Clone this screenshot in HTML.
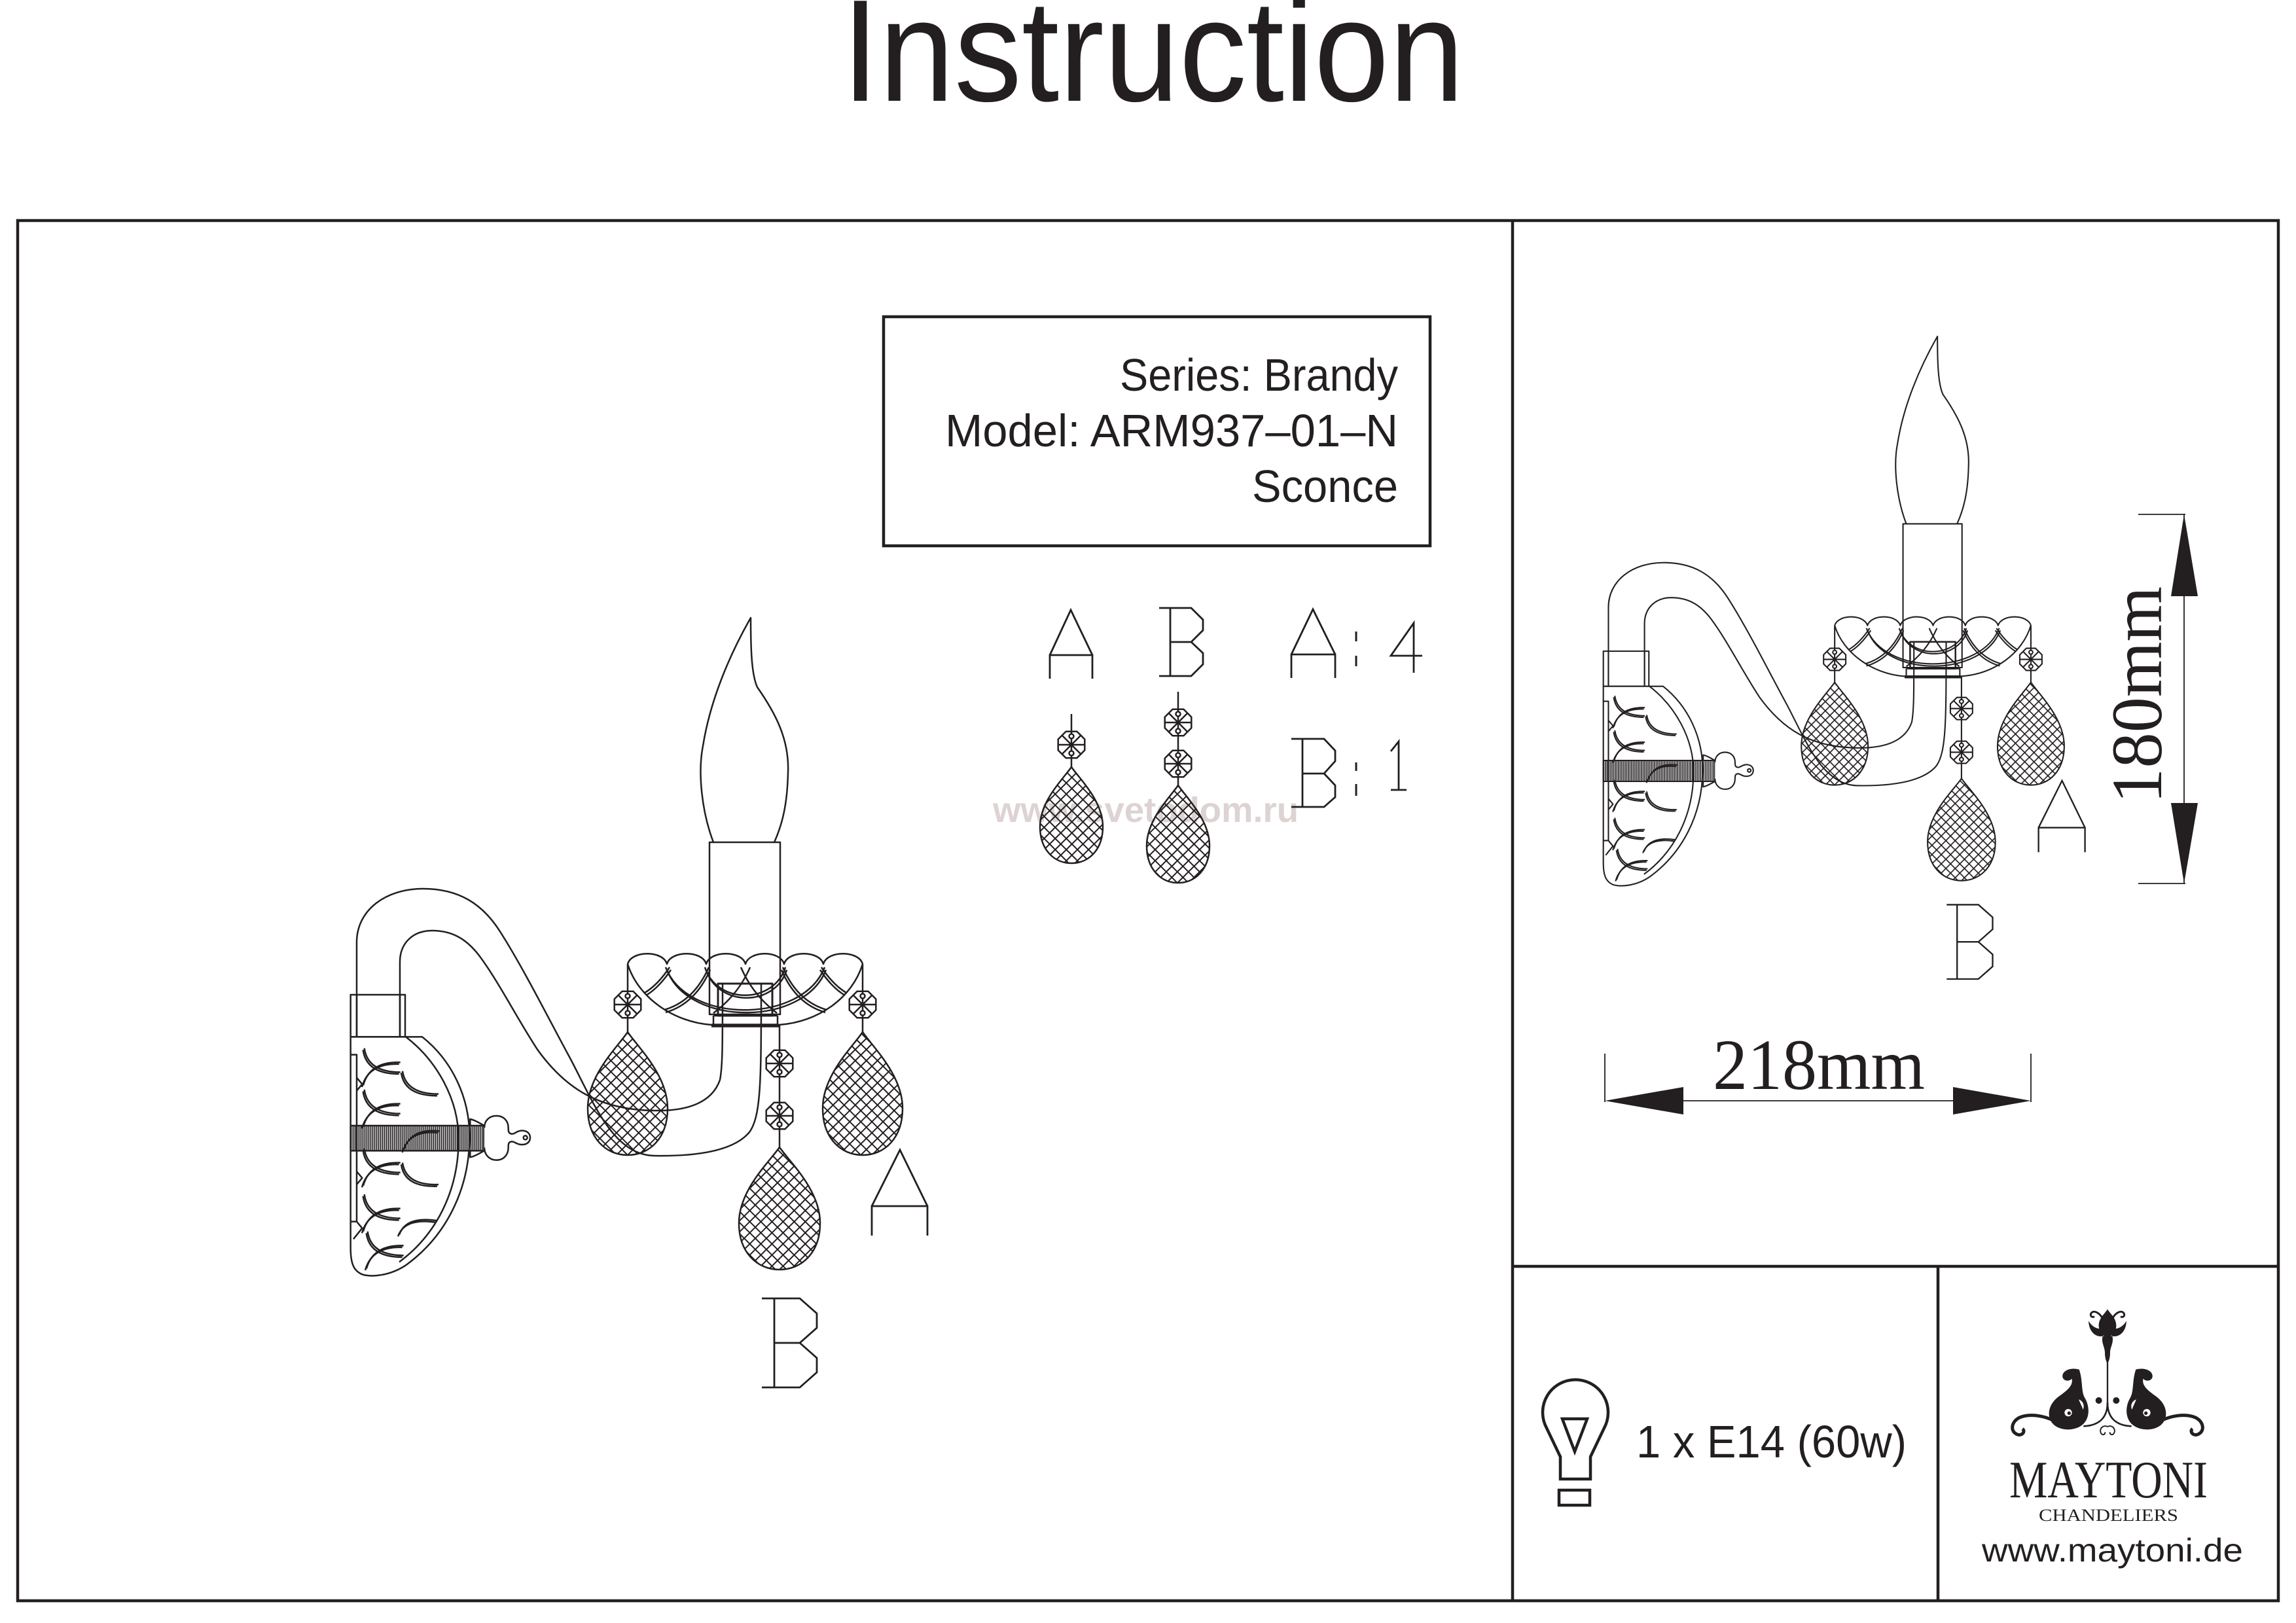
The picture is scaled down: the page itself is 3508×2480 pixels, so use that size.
<!DOCTYPE html>
<html>
<head>
<meta charset="utf-8">
<style>
html,body{margin:0;padding:0;background:#fff;}
svg{display:block;}
</style>
</head>
<body>
<svg width="3508" height="2480" viewBox="0 0 3508 2480" xmlns="http://www.w3.org/2000/svg">
<defs>
  <pattern id="xh" patternUnits="userSpaceOnUse" width="12" height="12" patternTransform="rotate(45)">
    <path d="M0,6 H12 M6,0 V12" stroke="#231f20" stroke-width="2" fill="none"/>
  </pattern>
  <pattern id="vh" patternUnits="userSpaceOnUse" width="9" height="10">
    <path d="M4.5,0 V10" stroke="#231f20" stroke-width="5.5" fill="none"/>
  </pattern>
  <g id="oct">
    <path d="M20.3,-8.4 L8.4,-20.3 L-8.4,-20.3 L-20.3,-8.4 L-20.3,8.4 L-8.4,20.3 L8.4,20.3 L20.3,8.4 Z" fill="#fff"/>
    <path d="M0,-20.3 V20.3 M-20.3,0 H20.3 M-14.4,-14.4 L14.4,14.4 M14.4,-14.4 L-14.4,14.4"/>
    <circle cx="0" cy="-13" r="3.5" fill="#fff"/>
    <circle cx="0" cy="13" r="3.5" fill="#fff"/>
  </g>
</defs>

<rect width="3508" height="2480" fill="#fff"/>

<!-- Title -->
<text x="1286" y="154" font-family="'Liberation Sans', Arial, sans-serif" font-size="222" textLength="951" lengthAdjust="spacingAndGlyphs" fill="#231f20">Instruction</text>

<!-- Frame -->
<g fill="none" stroke="#231f20" stroke-width="4.5">
  <rect x="27" y="337" width="3454" height="2109"/>
  <path d="M2311,337 V2446 M2311,1935 H3481 M2961,1935 V2446"/>
</g>

<!-- Info box -->
<rect x="1350" y="484" width="835" height="350" fill="none" stroke="#231f20" stroke-width="4.5"/>
<g font-family="'Liberation Sans', Arial, sans-serif" font-size="70" fill="#231f20">
  <text x="1711" y="597" textLength="425" lengthAdjust="spacingAndGlyphs">Series: Brandy</text>
  <text x="1444" y="682" textLength="692" lengthAdjust="spacingAndGlyphs">Model: ARM937–01–N</text>
  <text x="1913" y="767" textLength="223" lengthAdjust="spacingAndGlyphs">Sconce</text>
</g>

<!-- Watermark -->
<text x="1517" y="1256" font-family="'Liberation Sans', Arial, sans-serif" font-weight="bold" font-size="54" textLength="467" lengthAdjust="spacingAndGlyphs" fill="#ddd3d3">www.svetodom.ru</text>

<!-- Legend -->
<g fill="none" stroke="#231f20" stroke-width="2.8" stroke-linejoin="miter">
  <path d="M1604,1037 V1001 H1669 V1037 M1604,1001 L1636,932 L1669,1001"/>
  <path d="M1771,929 H1820 L1838,947 V963 L1820,981 H1788 M1820,981 L1838,998 V1015 L1820,1033 H1771 M1788,929 V1033"/>
  <path d="M1973,1036 V1000 H2040 V1036 M1973,1000 L2006,931 L2040,1000"/>
  <path d="M2072,965 V980 M2072,1002 V1018" stroke-width="3"/>
  <path d="M2160,1028 V952 L2125,1002 H2173"/>
  <path d="M1973,1129 H2023 L2040,1147 V1163 L2023,1182 H1990 M2023,1182 L2040,1200 V1218 L2023,1233 H1973 M1990,1129 V1233"/>
  <path d="M2072,1165 V1178 M2072,1198 V1216" stroke-width="3"/>
  <path d="M2125,1148 L2137,1133 V1207 M2125,1207 H2149"/>
</g>
<g fill="none" stroke="#231f20" stroke-width="2.5">
  <path d="M1637,1091 V1118 M1637,1158 V1172"/>
  <use href="#oct" x="1637" y="1138"/>
  <path d="M1637,1172 C1649,1189.6 1685,1223.5 1685,1263.1 C1685,1298.4 1663.4,1319 1637,1319 C1610.6,1319 1589,1298.4 1589,1263.1 C1589,1223.5 1625,1189.6 1637,1172 Z" fill="url(#xh)"/>
  <path d="M1800,1057 V1084 M1800,1124 V1147 M1800,1187 V1200"/>
  <use href="#oct" x="1800" y="1104"/>
  <use href="#oct" x="1800" y="1167"/>
  <path d="M1800,1200 C1812,1217.9 1848,1252.2 1848,1292.4 C1848,1328.1 1826.4,1349 1800,1349 C1773.6,1349 1752,1328.1 1752,1292.4 C1752,1252.2 1788,1217.9 1800,1200 Z" fill="url(#xh)"/>
</g>

<!-- Sconce drawing (left) -->
<g id="sc" fill="none" stroke="#231f20" stroke-width="2.5" stroke-linejoin="round">
  <!-- flame and candle -->
  <path d="M1090,1287 C1072,1240 1066,1180 1074,1140 C1085,1070 1115,1000 1147,944 C1147,990 1148,1030 1157,1050 C1185,1090 1206,1130 1204,1180 C1203,1230 1195,1260 1183,1287"/>
  <rect x="1084" y="1287" width="108" height="263"/>
  <!-- arm -->
  <path d="M545,1584 L545,1440 C545,1390 590,1358 646,1358 C700,1358 737,1380 765,1425 C800,1480 840,1560 870,1615 C905,1680 935,1765 1000,1766 C1060,1767 1120,1760 1145,1730 C1163,1705 1163,1650 1163,1503"/>
  <path d="M611,1584 L611,1470 C611,1440 632,1422 660,1422 C690,1422 712,1434 732,1460 C762,1500 792,1560 822,1605 C862,1660 912,1696 1000,1697 C1050,1698 1088,1685 1100,1650 C1104,1630 1104,1600 1104,1503"/>
  <!-- bobeche -->
  <path d="M959,1473 C965,1452 1013,1452 1019,1473 C1025,1452 1073,1452 1079,1473 C1085,1452 1133,1452 1139,1473 C1145,1452 1192,1452 1198,1473 C1204,1452 1252,1452 1258,1473 C1264,1452 1312,1452 1318,1473"/>
  <path d="M959,1473 C975,1525 1030,1562 1087,1566 L1190,1566 C1250,1562 1302,1525 1318,1473"/>
  <g>
    <path d="M985,1517 Q1005,1505 1023,1478 M1015,1543 Q1060,1530 1083,1478 M1293,1517 Q1273,1505 1255,1478 M1263,1543 Q1218,1530 1196,1478 M1017,1478 C1050,1565 1226,1565 1260,1478 M1077,1478 C1095,1535 1182,1535 1200,1478 M1132,1478 Q1150,1520 1187,1548 M1146,1478 Q1128,1520 1090,1548"/>
    <path transform="translate(2,4)" d="M985,1517 Q1005,1505 1023,1478 M1015,1543 Q1060,1530 1083,1478 M1017,1478 C1050,1565 1226,1565 1260,1478 M1077,1478 C1095,1535 1182,1535 1200,1478"/>
    <path transform="translate(-2,4)" d="M1293,1517 Q1273,1505 1255,1478 M1263,1543 Q1218,1530 1196,1478"/>
  </g>
  <rect x="1097" y="1503" width="83" height="49" stroke-width="3"/>
  <path d="M1090,1552 H1188 M1090,1552 V1566 M1188,1552 V1566"/>
  <path d="M1087,1567 H1190" stroke-width="5.5"/>
  <!-- pendants -->
  <path d="M959,1473 V1514 M959,1556 V1577 M1318,1473 V1514 M1318,1556 V1577 M1191,1566 V1604 M1191,1646 V1684 M1191,1726 V1753"/>
  <use href="#oct" x="959" y="1535"/>
  <use href="#oct" x="1318" y="1535"/>
  <use href="#oct" x="1191" y="1625"/>
  <use href="#oct" x="1191" y="1705"/>
  <path d="M959,1577 C974.3,1599.6 1020,1642.8 1020,1693.6 C1020,1738.7 992.6,1765 959,1765 C925.4,1765 898,1738.7 898,1693.6 C898,1642.8 943.7,1599.6 959,1577 Z" fill="url(#xh)"/>
  <path d="M1318,1577 C1333.3,1599.6 1379,1642.8 1379,1693.6 C1379,1738.7 1351.6,1765 1318,1765 C1284.4,1765 1257,1738.7 1257,1693.6 C1257,1642.8 1302.7,1599.6 1318,1577 Z" fill="url(#xh)"/>
  <path d="M1191,1753 C1206.5,1775.4 1253,1818.5 1253,1868.9 C1253,1913.8 1225.1,1940 1191,1940 C1156.9,1940 1129,1913.8 1129,1868.9 C1129,1818.5 1175.5,1775.4 1191,1753 Z" fill="url(#xh)"/>
  <!-- wall plate (local 3x coords) -->
  <g transform="translate(520,1490) scale(0.33333)" stroke-width="7.5">
    <rect x="47" y="90" width="250" height="193"/>
    <path d="M47,283 L375,283 C510,390 595,560 592,750 C589,990 480,1200 300,1330 C225,1380 140,1385 100,1372 C60,1355 47,1320 47,1250 Z" fill="#fff"/>
    <path d="M300,283 C440,390 545,570 542,760 C540,990 440,1190 270,1315"/>
    <path d="M47,365 H75 V1130 H47 M75,470 L100,500 L75,530 M75,900 L100,930 L75,960 M75,1130 L100,1160 L60,1210"/>
    <g id="plarcs">
      <path d="M110,335 Q125,445 275,445 M275,400 Q135,395 105,505"/>
      <path d="M110,525 Q125,635 275,635 M275,590 Q135,585 105,695"/>
      <path d="M110,795 Q125,905 275,905 M275,860 Q135,855 105,965"/>
      <path d="M110,1005 Q125,1115 275,1115 M275,1070 Q135,1065 105,1175"/>
      <path d="M125,1175 Q140,1285 290,1285 M290,1240 Q150,1235 120,1345"/>
      <path d="M285,440 Q300,545 450,545 M285,860 Q300,965 450,960 M290,805 Q320,700 455,715 M270,1190 Q300,1105 440,1125"/>
    </g>
    <use href="#plarcs" transform="translate(-6,8)"/>
    <rect x="47" y="690" width="613" height="115" fill="url(#vh)"/>
    <path d="M595,690 L595,660 C620,665 640,680 660,690 M595,805 L595,835 C620,830 640,815 660,805"/>
    <path d="M660,700 C660,665 685,645 715,645 C748,645 770,668 770,700 C770,715 770,725 785,728 C800,730 805,715 830,713 C858,712 870,728 870,745 C870,762 858,778 830,777 C805,776 800,762 785,763 C770,765 770,775 770,790 C770,825 748,848 715,848 C685,848 660,825 660,790" fill="#fff"/>
    <circle cx="848" cy="745" r="9"/>
  </g>
  <!-- arm verticals inside collar -->
  <path d="M545,1520 V1584 M611,1520 V1584"/>
  <!-- letters -->
  <path d="M1332,1888 V1843 H1417 V1888 M1332,1843 L1375,1757 L1417,1843" stroke-width="2.8" stroke-linejoin="miter"/>
  <path d="M1164,1984 H1222 L1248,2007 V2029 L1222,2052 H1183 M1222,2052 L1248,2075 V2097 L1222,2120 H1164 M1183,1984 V2120" stroke-width="2.8" stroke-linejoin="miter"/>
</g>

<!-- Sconce drawing (right, scaled copy) -->
<use href="#sc" transform="translate(2002.4,-274.2) scale(0.835)"/>

<!-- Dimensions -->
<g stroke="#231f20" stroke-width="1.8" fill="none">
  <path d="M2452,1610 V1684 M3103,1610 V1684 M2572,1682 H2984"/>
  <path d="M3267,786 H3339 M3267,1350 H3339 M3337,786 V1350"/>
</g>
<g fill="#231f20">
  <polygon points="2452,1682 2572,1661 2572,1703"/>
  <polygon points="3103,1682 2984,1661 2984,1703"/>
  <polygon points="3337,786 3317,911 3358,911"/>
  <polygon points="3337,1350 3317,1227 3358,1227"/>
</g>
<text x="2617" y="1664" font-family="'Liberation Serif', 'Times New Roman', serif" font-size="110" textLength="324" lengthAdjust="spacingAndGlyphs" fill="#231f20">218mm</text>
<text transform="translate(3302,1228) rotate(-90)" font-family="'Liberation Serif', 'Times New Roman', serif" font-size="110" textLength="332" lengthAdjust="spacingAndGlyphs" fill="#231f20">180mm</text>

<!-- Bulb -->
<g fill="none" stroke="#231f20" stroke-width="4.5" stroke-linejoin="miter">
  <path d="M2384,2260 L2384,2226 L2363,2182 A50,50 0 1 1 2451,2182 L2430,2226 L2430,2260 Z"/>
  <path d="M2387,2168 H2425 L2406,2218 Z"/>
  <rect x="2382" y="2277" width="47" height="23"/>
</g>
<text x="2500" y="2227" font-family="'Liberation Sans', Arial, sans-serif" font-size="70" textLength="413" lengthAdjust="spacingAndGlyphs" fill="#231f20">1 x E14 (60w)</text>

<!-- Logo ornament (local 3x coords) -->
<g transform="translate(3030,1970) scale(0.33333)" fill="#231f20" stroke="#231f20">
  <path d="M570,300 L570,525" stroke-width="7" fill="none"/>
  <path d="M548,215 C540,245 558,265 558,290 C558,310 562,330 570,340 C578,330 582,310 582,290 C582,265 600,245 592,215 Z" stroke="none"/>
  <path d="M570,92 C585,115 612,135 610,170 C608,200 590,215 570,222 C550,215 532,200 530,170 C528,135 555,115 570,92 Z" stroke="none"/>
  <g id="ornL">
    <path d="M550,215 C515,222 485,195 483,145 C500,172 520,182 545,182 Z" stroke="none"/>
    <path d="M545,130 C530,105 505,95 495,110 C488,122 500,132 510,125" fill="none" stroke-width="9"/>
    <path d="M440,368 C398,356 360,375 364,402 C368,422 396,424 406,410 C414,440 388,462 346,492 C298,528 290,582 318,615 C350,652 425,652 460,617 C490,586 488,535 466,498 C448,468 458,420 440,368 Z" stroke="none"/>
    <circle cx="390" cy="566" r="17" fill="#fff" stroke="none"/>
    <circle cx="394" cy="568" r="8" stroke="none"/>
    <path d="M438,505 C458,512 466,532 458,552 C452,535 445,522 438,505 Z" fill="#fff" stroke="none"/>
    <path d="M330,605 C280,580 220,570 175,585 C130,600 120,650 155,665 C180,675 195,650 180,640" fill="none" stroke-width="15"/>
    <path d="M570,520 C570,590 530,625 460,628" fill="none" stroke-width="8"/>
    <circle cx="530" cy="510" r="15" stroke="none"/>
    <path d="M570,630 C550,620 530,640 540,660 C548,672 562,665 558,655" fill="none" stroke-width="6"/>
  </g>
  <use href="#ornL" transform="translate(1140,0) scale(-1,1)"/>
</g>
<g fill="#231f20">
  <text x="3070" y="2288" font-family="'Liberation Serif', 'Times New Roman', serif" font-size="80" textLength="303" lengthAdjust="spacingAndGlyphs">MAYTONI</text>
  <text x="3115" y="2324" font-family="'Liberation Serif', 'Times New Roman', serif" font-size="26" textLength="213" lengthAdjust="spacingAndGlyphs">CHANDELIERS</text>
  <text x="3028" y="2386" font-family="'Liberation Sans', Arial, sans-serif" font-size="50" textLength="399" lengthAdjust="spacingAndGlyphs">www.maytoni.de</text>
</g>
</svg>
</body>
</html>
